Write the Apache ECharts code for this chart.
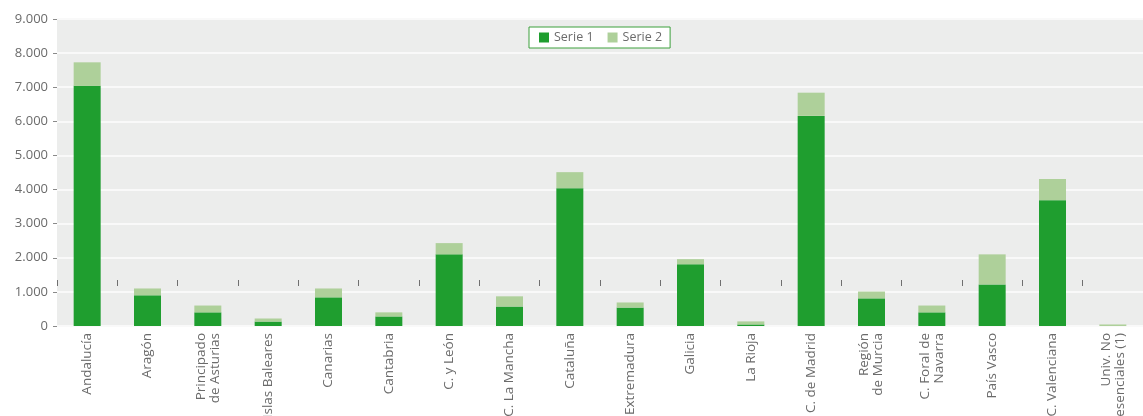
<!DOCTYPE html>
<html>
<head>
<meta charset="utf-8">
<script src="https://cdn.jsdelivr.net/npm/echarts@6/dist/echarts.min.js"></script>
<style>
  html, body { margin: 0; padding: 0; background: #ffffff; }
  #main { width: 1143px; height: 416px; }
</style>
</head>
<body>
<div id="main"></div>
<script>
const categories = [
  'Andalucía', 'Aragón', 'Principado\nde Asturias', 'Islas Baleares', 'Canarias',
  'Cantabria', 'C. y León', 'C. La Mancha', 'Cataluña', 'Extremadura',
  'Galicia', 'La Rioja', 'C. de Madrid', 'Región\nde Murcia', 'C. Foral de\nNavarra',
  'País Vasco', 'C. Valenciana', 'Univ. No\nPresenciales (1)'
];
const serie1 = [7040, 900, 400, 130, 840, 280, 2100, 570, 4040, 540, 1810, 45, 6160, 810, 400, 1220, 3690, 0];
const serie2 = [690, 200, 200, 90, 260, 120, 330, 300, 470, 150, 150, 90, 680, 200, 200, 880, 620, 45];
const yTicks = [0, 1000, 2000, 3000, 4000, 5000, 6000, 7000, 8000, 9000];

const textColor = '#6b6b6b';
const font = '"Open Sans", "DejaVu Sans", sans-serif';

function fmt(v) {
  return String(v).replace(/\B(?=(\d{3})+(?!\d))/g, '.');
}

const chart = echarts.init(document.getElementById('main'), null, { renderer: 'canvas' });

chart.setOption({
  animation: false,
  textStyle: { fontFamily: font },
  grid: {
    left: 57,
    right: 0,
    top: 19,
    bottom: 90,
    show: true,
    backgroundColor: '#ecedec',
    borderWidth: 0,
    outerBoundsMode: 'none',
    containLabel: false
  },
  legend: {
    left: 529,
    top: 27,
    backgroundColor: '#ffffff',
    borderColor: '#3ca03c',
    borderWidth: 1,
    padding: [4, 8, 4, 10],
    icon: 'rect',
    itemWidth: 10,
    itemHeight: 10,
    itemGap: 14,
    textStyle: { color: textColor, fontSize: 12.5, fontFamily: font },
    data: ['Serie 1', 'Serie 2']
  },
  xAxis: [
    {
      type: 'category',
      data: categories,
      axisLine: { show: false },
      axisTick: { show: false },
      axisLabel: {
        rotate: 90,
        interval: 0,
        margin: 7,
        color: textColor,
        fontSize: 13.5,
        lineHeight: 14,
        fontFamily: font
      }
    },
    {
      type: 'category',
      data: categories,
      position: 'bottom',
      offset: -46,
      axisLine: { show: false },
      axisTick: { show: true, interval: 0, length: 6, lineStyle: { color: '#6f6f6f', width: 1 } },
      axisLabel: { show: false, interval: 0 }
    }
  ],
  yAxis: {
    type: 'value',
    min: 0,
    max: 9000,
    interval: 1000,
    axisLine: { show: false },
    axisTick: { show: true, length: 4, lineStyle: { color: '#8a8a8a' } },
    axisLabel: {
      color: textColor,
      fontSize: 13,
      margin: 9,
      fontFamily: font,
      formatter: (v) => (yTicks.includes(v) ? fmt(v) : '')
    },
    splitLine: { show: true, lineStyle: { color: '#f9f9f9', width: 2 } }
  },
  series: [
    {
      name: 'Serie 1',
      type: 'bar',
      stack: 'total',
      barWidth: 27,
      data: serie1,
      itemStyle: { color: '#1f9e2f' }
    },
    {
      name: 'Serie 2',
      type: 'bar',
      stack: 'total',
      barWidth: 27,
      data: serie2,
      itemStyle: { color: '#aed09a' }
    }
  ]
});
</script>
</body>
</html>
